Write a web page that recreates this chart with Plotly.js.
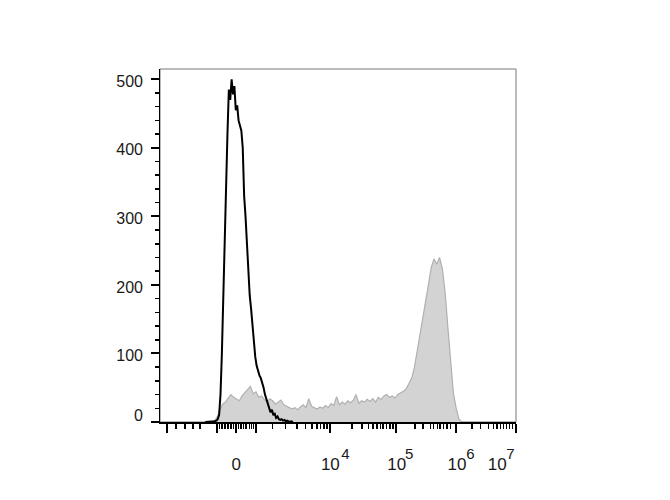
<!DOCTYPE html>
<html>
<head>
<meta charset="utf-8">
<script src="https://cdn.plot.ly/plotly-3.0.1.min.js"></script>
<style>html,body{margin:0;padding:0;background:#fff;}#chart{width:670px;height:500px;}</style>
</head>
<body>
<div id="chart"></div>
<script>
// Histogram counts per channel bin (biexponential display channels 0..1024)
const stainedCounts = [0,0,0,0,1,7,18,26,29,35,40,36,34,31,38,43,47,52,41,44,36,38,33,29,34,31,26,29,32,25,23,22,19,21,18,22,25,21,34,23,21,19,22,20,24,21,27,24,37,25,29,26,31,28,32,40,27,31,29,33,30,34,29,36,33,38,40,36,38,35,40,42,45,48,56,64,80,104,122,150,175,200,225,238,230,240,224,190,138,85,42,20,4,0,0];
const stainedStart = 120, stainedBin = 8;
const controlCounts = [0,0,0,0,0,0,1,1,2,4,10,40,100,170,250,340,420,485,470,500,478,490,455,462,440,430,425,400,330,300,260,215,185,165,140,115,95,82,74,68,64,58,50,40,33,26,20,14,18,10,12,6,8,4,3,4,2,3,1,2,1,0,1,0];
const controlStart = 128, controlBin = 4;

// Axis ticks (channel positions)
const xMajorTicks = [21,164,219,275,488,680,850,1023];
const xMinorTicks = [46,72,95,115,171,179,187,196,204,212,226,233,240,248,257,263,269,323,361,394,418,437,451,462,472,481,552,581,599,613,624,634,642,651,661,670,734,757,778,786,798,806,815,826,835,898,922,945,959,970,979,988,996,1005,1014];
// tick labels: base part and exponent part (biexponential decade labels)
const xLabelPos = [219,490,681,854,970];
const xLabelText = ['0','10','10','10','10'];
const xExpPos = [533,717,893,1008];
const xExpText = ['4','5','6','7'];
const yMajorTicks = [0,100,200,300,400,500];
const yLabelPos = [9,97,197,297,397,497];
const yLabelText = ['0','100','200','300','400','500'];

const font = {family: 'Liberation Sans, Arial, sans-serif', size: 16, color: '#1a1a1a'};
const xFont = {family: 'Liberation Sans, Arial, sans-serif', size: 17, color: '#1a1a1a'};
const expFont = {family: 'Liberation Sans, Arial, sans-serif', size: 15, color: '#1a1a1a'};

const traces = [
  {type:'scatter', mode:'lines', y: stainedCounts, x0: stainedStart + stainedBin/2, dx: stainedBin,
   fill:'tozeroy', fillcolor:'#d3d3d3', line:{color:'#b0b0b0', width:1.2}, hoverinfo:'skip'},
  {type:'scatter', mode:'lines', y: controlCounts, x0: controlStart + controlBin/2, dx: controlBin,
   line:{color:'#000000', width:2}, hoverinfo:'skip'},
  {type:'scatter', mode:'lines', x: [], y: [], xaxis:'x2', yaxis:'y2', hoverinfo:'skip'},
  {type:'scatter', mode:'lines', x: [], y: [], xaxis:'x3', yaxis:'y2', hoverinfo:'skip'}
];

const layout = {
  width: 670, height: 500,
  margin: {l:160, r:154.4, t:69, b:77.5},
  paper_bgcolor:'#ffffff', plot_bgcolor:'#ffffff',
  showlegend:false, font: font,
  xaxis: {range:[0,1024], tickmode:'array', tickvals:xMajorTicks, showticklabels:false,
          ticks:'outside', ticklen:9, tickwidth:2, tickcolor:'#000',
          minor:{tickmode:'array', tickvals:xMinorTicks, ticks:'outside', ticklen:5, tickwidth:1.5, tickcolor:'#000', showgrid:false},
          showgrid:false, zeroline:false, showline:true, linecolor:'#000', linewidth:2, fixedrange:true},
  yaxis: {range:[0,515], tickmode:'array', tickvals:yMajorTicks, showticklabels:false,
          ticks:'outside', ticklen:8, tickwidth:2, tickcolor:'#000',
          minor:{dtick:20, ticks:'outside', ticklen:4, tickwidth:1.5, tickcolor:'#000', showgrid:false},
          showgrid:false, zeroline:false, showline:true, linecolor:'#000', linewidth:1.5, fixedrange:true},
  xaxis2: {overlaying:'x', anchor:'y', side:'bottom', range:[0,1024], tickmode:'array', tickvals:xLabelPos, ticktext:xLabelText,
           ticks:'', showline:false, showgrid:false, zeroline:false, ticklabelstandoff:30, tickfont:xFont, fixedrange:true},
  xaxis3: {overlaying:'x', anchor:'y', side:'bottom', range:[0,1024], tickmode:'array', tickvals:xExpPos, ticktext:xExpText,
           ticks:'', showline:false, showgrid:false, zeroline:false, ticklabelstandoff:21, tickfont:expFont, fixedrange:true},
  yaxis2: {overlaying:'y', anchor:'x', side:'left', range:[0,515], tickmode:'array', tickvals:yLabelPos, ticktext:yLabelText,
           ticks:'', showline:false, showgrid:false, zeroline:false, ticklabelstandoff:16, tickfont:font, fixedrange:true},
  shapes: [{type:'rect', xref:'paper', yref:'paper', x0:0, x1:1, y0:0, y1:1, line:{color:'#777', width:1}, layer:'below'}]
};

Plotly.newPlot('chart', traces, layout, {displayModeBar:false, staticPlot:true});
</script>
</body>
</html>
